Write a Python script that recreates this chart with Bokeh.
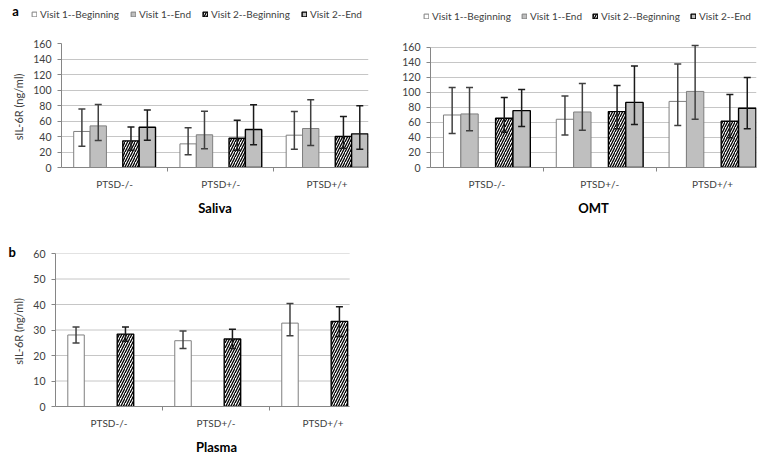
from bokeh.plotting import figure
from bokeh.models import (Range1d, FixedTicker, Whisker, TeeHead, ColumnDataSource,
                          Legend, LegendItem, Label)
from bokeh.layouts import column, row
from bokeh.embed import file_html
from bokeh.resources import INLINE
import numpy as np

# ---------------- data ----------------
categories = ["PTSD-/-", "PTSD+/-", "PTSD+/+"]
series_names = ["Visit 1--Beginning", "Visit 1--End", "Visit 2--Beginning", "Visit 2--End"]

# Saliva (ng/ml): mean, lower error, upper error
saliva_v1b = [46.5, 30.5, 41.7]
saliva_v1b_lo = [27.5, 16.3, 23.7]
saliva_v1b_hi = [75.6, 51.2, 72.3]
saliva_v1e = [53.7, 42.2, 50.3]
saliva_v1e_lo = [34.8, 24.1, 28.4]
saliva_v1e_hi = [81.3, 72.7, 87.3]
saliva_v2b = [34.4, 37.8, 40.0]
saliva_v2b_lo = [22.3, 22.4, 24.9]
saliva_v2b_hi = [52.4, 61.0, 65.8]
saliva_v2e = [52.0, 49.0, 43.4]
saliva_v2e_lo = [35.2, 29.2, 23.7]
saliva_v2e_hi = [74.3, 80.9, 79.6]

# OMT
omt_v1b = [70.0, 64.3, 88.1]
omt_v1b_lo = [45.4, 43.2, 56.0]
omt_v1b_hi = [106.7, 95.2, 138.0]
omt_v1e = [71.4, 74.0, 101.4]
omt_v1e_lo = [48.9, 49.8, 64.3]
omt_v1e_hi = [106.7, 112.0, 162.5]
omt_v2b = [65.7, 74.5, 61.7]
omt_v2b_lo = [47.0, 51.6, 39.7]
omt_v2b_hi = [93.4, 109.3, 97.4]
omt_v2e = [75.8, 86.8, 78.9]
omt_v2e_lo = [54.6, 57.3, 51.6]
omt_v2e_hi = [104.0, 135.3, 119.9]

# Plasma (only beginning-of-visit samples)
plasma_v1b = [28.05, 25.8, 32.7]
plasma_v1b_lo = [24.9, 22.7, 27.7]
plasma_v1b_hi = [31.2, 29.6, 40.4]
plasma_v2b = [28.4, 26.5, 33.4]
plasma_v2b_lo = [25.6, 22.7, 27.5]
plasma_v2b_hi = [31.2, 30.3, 39.1]

saliva_ticks = [0, 20, 40, 60, 80, 100, 120, 140, 160]
omt_ticks = [0, 20, 40, 60, 80, 100, 120, 140, 160]
plasma_ticks = [0, 10, 20, 30, 40, 50, 60]

# ---------------- styling ----------------
FONT = "Lato"
SLOT = 0.154
OFFSETS = {0: -2 * SLOT, 1: -1 * SLOT, 2: 1 * SLOT, 3: 2 * SLOT}
STYLES = {
    0: dict(fill_color="white", line_color="#7f7f7f", line_width=1),
    1: dict(fill_color="#bfbfbf", line_color="#7f7f7f", line_width=1),
    2: dict(fill_color="white", line_color="black", line_width=1.4,
            hatch_pattern="/", hatch_color="black", hatch_scale=5, hatch_weight=1.3),
    3: dict(fill_color="#bfbfbf", line_color="black", line_width=1.4),
}
WHISKER_COLOR = {0: "#404040", 1: "#404040", 2: "#1a1a1a", 3: "#1a1a1a"}
YLABEL = "sIL-6R  (ng/ml)"
TXT = "#404040"
GRID = "#c6c6c6"


def make_panel(width, height, borders, x_end, y_top, y_max, yticks, ylabel, xlabel, series,
               axis_end=None):
    left, right, top, bottom = borders
    p = figure(width=width, height=height, output_backend="svg", toolbar_location=None,
               x_range=Range1d(-0.5, x_end), y_range=Range1d(0, y_top),
               min_border_left=left, min_border_right=right,
               min_border_top=top, min_border_bottom=bottom)
    p.outline_line_color = None
    p.background_fill_color = "white"
    p.border_fill_color = "white"
    p.xgrid.grid_line_color = None
    if axis_end is None:
        p.ygrid.grid_line_color = GRID
        p.ygrid.grid_line_width = 1
    else:
        # horizontal gridlines limited to the category extent
        p.ygrid.grid_line_color = None
        p.segment(x0=-0.5, x1=axis_end, y0=yticks, y1=yticks,
                  line_color=GRID, line_width=1, level="underlay")

    xs_base = np.arange(len(categories))
    for idx, (vals, lo, hi) in series.items():
        xs = xs_base + OFFSETS[idx]
        src = ColumnDataSource(dict(x=xs, top=vals, lo=lo, hi=hi))
        p.vbar(x="x", top="top", bottom=0, width=SLOT, source=src, **STYLES[idx])
        col = WHISKER_COLOR[idx]
        w = Whisker(source=src, base="x", lower="lo", upper="hi", dimension="height",
                    line_color=col, line_width=1.5, level="overlay",
                    upper_head=TeeHead(size=7, line_color=col, line_width=1.5),
                    lower_head=TeeHead(size=7, line_color=col, line_width=1.5))
        p.add_layout(w)

    # x axis
    xa = p.xaxis[0]
    xa.ticker = FixedTicker(ticks=[0, 1, 2], minor_ticks=[0.5, 1.5])
    xa.major_label_overrides = {0: categories[0], 1: categories[1], 2: categories[2]}
    if axis_end is not None:
        xa.bounds = (-0.5, axis_end)
    xa.major_tick_line_color = None
    xa.major_tick_out = 0
    xa.major_tick_in = 0
    xa.minor_tick_in = 0
    xa.minor_tick_out = 4
    xa.minor_tick_line_color = "#868686"
    xa.axis_line_color = "#868686"
    xa.major_label_text_font = FONT
    xa.major_label_text_font_size = "10px"
    xa.major_label_text_color = TXT
    xa.major_label_standoff = 6
    xa.axis_label = xlabel
    xa.axis_label_text_font = FONT
    xa.axis_label_text_font_size = "13px"
    xa.axis_label_text_font_style = "bold"
    xa.axis_label_text_color = "black"
    xa.axis_label_standoff = 7

    # y axis
    ya = p.yaxis[0]
    ya.ticker = FixedTicker(ticks=yticks, minor_ticks=[])
    ya.bounds = (0, y_max)
    ya.major_tick_out = 4
    ya.major_tick_in = 0
    ya.major_tick_line_color = "#868686"
    ya.axis_line_color = "#868686"
    ya.major_label_text_font = FONT
    ya.major_label_text_font_size = "10.5px"
    ya.major_label_text_color = TXT
    ya.major_label_standoff = 6
    if ylabel:
        ya.axis_label = ylabel
        ya.axis_label_text_font = FONT
        ya.axis_label_text_font_size = "11px"
        ya.axis_label_text_font_style = "normal"
        ya.axis_label_text_color = TXT
        ya.axis_label_standoff = 5
    return p


def make_legend_strip(width, height, loc, spacing, letter=None, letter_xy=None):
    lf = figure(width=width, height=height, output_backend="svg", toolbar_location=None,
                x_range=Range1d(0, width), y_range=Range1d(0, height),
                x_axis_type=None, y_axis_type=None, min_border=0)
    lf.outline_line_color = None
    lf.xgrid.visible = False
    lf.ygrid.visible = False
    rends = []
    for i in range(4):
        # placeholder renderer (NaN -> nothing drawn) so the legend can show its swatch
        rends.append(lf.vbar(x=[np.nan], top=[np.nan], bottom=0, width=1, **STYLES[i]))
    items = [LegendItem(label=series_names[i], renderers=[rends[i]]) for i in range(4)]
    lg = Legend(items=items, orientation="horizontal", location=loc,
                padding=0, margin=0, spacing=spacing, glyph_width=6, glyph_height=6,
                label_standoff=3, label_text_font=FONT, label_text_font_size="10px",
                label_text_color=TXT, border_line_color=None,
                background_fill_alpha=0, label_height=12)
    lf.add_layout(lg)
    if letter:
        lf.add_layout(Label(x=letter_xy[0], y=letter_xy[1], text=letter,
                            text_font=FONT, text_font_size="13px", text_font_style="bold",
                            text_align="center", text_baseline="middle",
                            text_color="black"))
    return lf


# ---------------- legend strips (top 22 px) ----------------
la = make_legend_strip(380, 22, (31, 2.5), 11, letter="a", letter_xy=(15, 12))
lb = make_legend_strip(382, 22, (43, 0), 10)

# ---------------- panels ----------------
# Saliva: frame x 61..368, y 43..167 (page)
p1 = make_panel(380, 206, (61, 12, 21, 61), 2.39, 160, 160, saliva_ticks,
                YLABEL, "Saliva",
                {0: (saliva_v1b, saliva_v1b_lo, saliva_v1b_hi),
                 1: (saliva_v1e, saliva_v1e_lo, saliva_v1e_hi),
                 2: (saliva_v2b, saliva_v2b_lo, saliva_v2b_hi),
                 3: (saliva_v2e, saliva_v2e_lo, saliva_v2e_hi)})

# OMT: frame x 430..756, y 42..167 (value 160 at y 46)
p2 = make_panel(382, 206, (50, 6, 20, 61), 2.39, 165.3, 160, omt_ticks,
                None, "OMT",
                {0: (omt_v1b, omt_v1b_lo, omt_v1b_hi),
                 1: (omt_v1e, omt_v1e_lo, omt_v1e_hi),
                 2: (omt_v2b, omt_v2b_lo, omt_v2b_hi),
                 3: (omt_v2e, omt_v2e_lo, omt_v2e_hi)})

# Plasma: frame x 55..377 (axis drawn to 349), y 253..407
p3 = make_panel(380, 229, (55, 3, 25, 50), 2.51, 60, 60, plasma_ticks,
                YLABEL, "Plasma",
                {0: (plasma_v1b, plasma_v1b_lo, plasma_v1b_hi),
                 2: (plasma_v2b, plasma_v2b_lo, plasma_v2b_hi)},
                axis_end=2.25)
p3.title.text = "b"
p3.title.align = "left"
p3.title.offset = -47
p3.title.standoff = -13
p3.title.text_font = FONT
p3.title.text_font_size = "13px"
p3.title.text_font_style = "bold"
p3.title.text_color = "black"

layout = column(row(la, lb), row(p1, p2), row(p3))
open("out.html", "w").write(file_html(layout, INLINE))
